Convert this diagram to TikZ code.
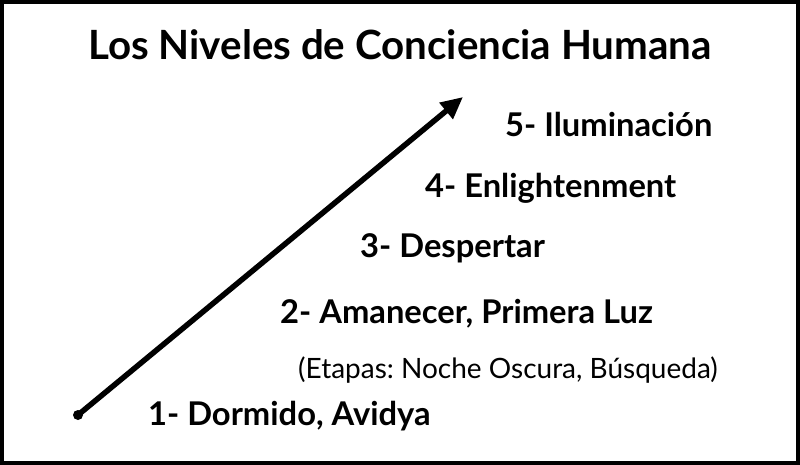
\documentclass[tikz,border=0pt]{standalone}
\usepackage{fontspec}
\setmainfont{Lato}
\usetikzlibrary{arrows.meta}
\frenchspacing
\begin{document}
\begin{tikzpicture}[x=1pt,y=-1pt,
  lvl/.style={anchor=base west,inner sep=0pt,font=\bfseries\fontsize{32.7}{38}\selectfont},
  sub/.style={anchor=base west,inner sep=0pt,font=\fontsize{28}{33}\selectfont},
  ttl/.style={anchor=base,inner sep=0pt,font=\bfseries\fontsize{40.3}{48}\selectfont}]
\useasboundingbox (0,0) rectangle (800,465);
\draw[line width=4pt] (2,2) rectangle (798,463);
\node[ttl] (title) at (400,60) {Los Niveles de Conciencia Humana};
\node[lvl] (l5) at (505,137) {5- Iluminación};
\node[lvl] (l4) at (425,197) {4- Enlightenment};
\node[lvl] (l3) at (360,257) {3- Despertar};
\node[lvl] (l2) at (280,323) {2- Amanecer, Primera Luz};
\node[sub] (et) at (298,378) {\frenchspacing(Etapas: Noche Oscura, Búsqueda)};
\node[lvl] (l1) at (148,425) {1- Dormido, Avidya};
\coordinate (start) at (78,415);
\coordinate (tip) at (463,97);
\fill (start) circle (5);
\draw[line width=5.5pt,-{Triangle[length=22pt,width=20pt]}] (start) -- (tip);
\end{tikzpicture}
\end{document}
